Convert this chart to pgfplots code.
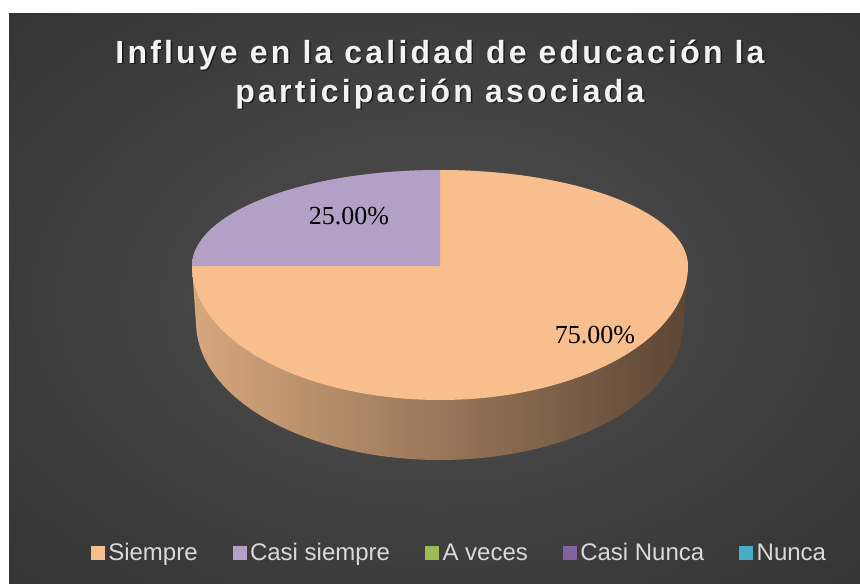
\documentclass[border=0pt]{standalone}
\usepackage{pgfplots}
\pgfplotsset{compat=1.18}
\usepackage{pgfplotstable}
\usepackage{fontspec}
\setmainfont{Liberation Sans}
\newfontfamily\titlefont[LetterSpace=10]{Liberation Sans}
\newfontfamily\labelfont{Liberation Serif}

\definecolor{bgin}{RGB}{80,80,80}
\definecolor{bgmid}{RGB}{58,58,58}
\definecolor{bgout}{RGB}{34,34,34}
\definecolor{siempre}{RGB}{248,190,142}
\definecolor{casisiempre}{RGB}{178,160,199}
\definecolor{aveces}{RGB}{155,187,89}
\definecolor{casinunca}{RGB}{128,100,162}
\definecolor{nunca}{RGB}{75,172,198}
\definecolor{sideL}{RGB}{214,167,125}
\definecolor{sideR}{RGB}{92,70,53}
\definecolor{legtext}{RGB}{217,217,217}

\pgfdeclareradialshading{bgshade}{\pgfpoint{0bp}{0bp}}{%
  color(0bp)=(bgin); color(28bp)=(bgmid); color(60bp)=(bgout); color(75bp)=(bgout)}

% porcentajes por categoria
\pgfplotstableread{
cat value
Siempre 75
CasiSiempre 25
AVeces 0
CasiNunca 0
Nunca 0
}\datatable

\begin{document}
\begin{tikzpicture}
\pgfplotstablegetelem{0}{value}\of\datatable \let\vA\pgfplotsretval
\pgfplotstablegetelem{1}{value}\of\datatable \let\vB\pgfplotsretval
\pgfmathsetmacro{\aA}{90-3.6*\vA}  % fin de Siempre (sentido horario desde las 12)
\pgfmathsetmacro{\aB}{\aA-3.6*\vB} % fin de Casi siempre
\begin{axis}[
    width=860pt, height=584pt, scale only axis,
    xmin=0, xmax=860, ymin=0, ymax=584, y dir=reverse,
    hide axis, clip=false,
    legend columns=5,
    legend image code/.code={\fill[#1] (0pt,-6.5pt) rectangle (13pt,6.5pt);},
    legend style={at={(axis cs:459,553)}, anchor=center, draw=none, fill=none,
        text=legtext, font=\fontsize{24}{24}\selectfont,
        nodes={inner sep=1pt},
        /tikz/every odd column/.append style={column sep=3pt},
        /tikz/every even column/.append style={column sep=34pt}},
]
    % fondo
    \fill[white] (axis cs:0,0) rectangle (axis cs:860,584);
    \shade[shading=bgshade] (axis cs:9,13) rectangle (axis cs:860,584);

    % costado del pastel
    \addplot[forget plot, draw=none, left color=sideL, right color=sideR,
        domain=0:360, samples=201]
        ({440 + (sin(\x)>=0 ? 248 : 244)*cos(\x)},
         {sin(\x)>=0 ? 266-96*sin(\x) : 322-138*sin(\x)});

    % Siempre
    \addplot[forget plot, draw=none, fill=siempre, domain=\aA:90, samples=151]
        ({440+248*cos(\x)}, {sin(\x)>=0 ? 266-96*sin(\x) : 266-134*sin(\x)})
        -- (axis cs:440,266) -- cycle;
    % Casi siempre
    \addplot[forget plot, draw=none, fill=casisiempre, domain=\aB:\aA, samples=61]
        ({440+248*cos(\x)}, {sin(\x)>=0 ? 266-96*sin(\x) : 266-134*sin(\x)})
        -- (axis cs:440,266) -- cycle;

    \node[font=\labelfont\fontsize{26}{26}\selectfont] at (axis cs:349,216) {25.00\%};
    \node[font=\labelfont\fontsize{26}{26}\selectfont] at (axis cs:595,335) {75.00\%};

    % titulo
    \node[anchor=base, text=black, opacity=0.55, font=\titlefont\bfseries\fontsize{32}{38}\selectfont]
        at (axis cs:441.5,64.5) {Influye en la calidad de educación la};
    \node[anchor=base, text=black, opacity=0.55, font=\titlefont\bfseries\fontsize{32}{38}\selectfont]
        at (axis cs:441.5,103.5) {participación asociada};
    \node[anchor=base, text=white!95!black, font=\titlefont\bfseries\fontsize{32}{38}\selectfont]
        at (axis cs:440,63) {Influye en la calidad de educación la};
    \node[anchor=base, text=white!95!black, font=\titlefont\bfseries\fontsize{32}{38}\selectfont]
        at (axis cs:440,102) {participación asociada};

    \addlegendimage{siempre}\addlegendentry{Siempre}
    \addlegendimage{casisiempre}\addlegendentry{Casi siempre}
    \addlegendimage{aveces}\addlegendentry{A veces}
    \addlegendimage{casinunca}\addlegendentry{Casi Nunca}
    \addlegendimage{nunca}\addlegendentry{Nunca}
\end{axis}
\end{tikzpicture}
\end{document}
